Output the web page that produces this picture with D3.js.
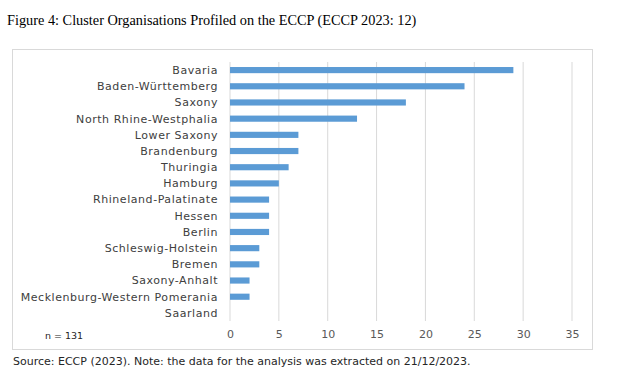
<!DOCTYPE html>
<html>
<head>
<meta charset="UTF-8">
<title></title>
<script src="https://cdn.jsdelivr.net/npm/d3@7"></script>
<style>
  body { margin: 0; background: #fff; }
</style>
</head>
<body>
<svg width="620" height="377"></svg>
<script>
// data
var states = ["Bavaria", "Baden-Württemberg", "Saxony", "North Rhine-Westphalia", "Lower Saxony",
  "Brandenburg", "Thuringia", "Hamburg", "Rhineland-Palatinate", "Hessen", "Berlin",
  "Schleswig-Holstein", "Bremen", "Saxony-Anhalt", "Mecklenburg-Western Pomerania", "Saarland"];
var counts = [29, 24, 18, 13, 7, 7, 6, 5, 4, 4, 4, 3, 3, 2, 2, 0];
var xTicks = [0, 5, 10, 15, 20, 25, 30, 35];

var svg = d3.select("svg");
var sans = "'DejaVu Sans', sans-serif";

// title above the chart frame
svg.append("text")
  .attr("x", 7).attr("y", 25)
  .style("font-family", "'Liberation Serif', 'Times New Roman', serif")
  .style("font-size", "14.3px")
  .style("fill", "#000")
  .text("Figure 4: Cluster Organisations Profiled on the ECCP (ECCP 2023: 12)");

// frame
svg.append("rect")
  .attr("x", 12.5).attr("y", 49.5)
  .attr("width", 580).attr("height", 300)
  .attr("fill", "none").attr("stroke", "#d9d9d9");

var x = d3.scaleLinear().domain([0, 35]).range([230, 572]);
var y = d3.scaleBand().domain(states).range([62, 321]).paddingInner(0.62).paddingOuter(0.31);

// grid
svg.append("g").selectAll("line")
  .data(xTicks)
  .enter().append("line")
  .attr("x1", function(d){ return x(d); })
  .attr("x2", function(d){ return x(d); })
  .attr("y1", 62).attr("y2", 321)
  .attr("stroke", "#d9d9d9").attr("stroke-width", 1);

// bars
svg.append("g").selectAll("rect")
  .data(states)
  .enter().append("rect")
  .attr("x", x(0))
  .attr("y", function(d){ return y(d); })
  .attr("width", function(d, i){ return x(counts[i]) - x(0); })
  .attr("height", y.bandwidth())
  .attr("fill", "#5b9bd5");

// category labels
svg.append("g").selectAll("text")
  .data(states)
  .enter().append("text")
  .attr("x", 218)
  .attr("y", function(d){ return y(d) + y.bandwidth() / 2; })
  .attr("dy", "0.35em")
  .attr("text-anchor", "end")
  .style("font-family", sans).style("font-size", "11px").style("letter-spacing", "0.55px")
  .style("fill", "#404040")
  .text(function(d){ return d; });

// x axis labels
var xAxis = d3.axisBottom(x).tickValues(xTicks).tickSize(0).tickPadding(0);
var gx = svg.append("g").attr("transform", "translate(0,330)").call(xAxis);
gx.select(".domain").remove();
gx.selectAll("text")
  .style("font-family", sans).style("font-size", "11px").style("fill", "#595959");

svg.append("text")
  .attr("x", 45).attr("y", 339)
  .style("font-family", sans).style("font-size", "9.5px").style("fill", "#262626")
  .text("n = 131");

svg.append("text")
  .attr("x", 13).attr("y", 365)
  .style("font-family", sans).style("font-size", "11px").style("fill", "#262626")
  .text("Source: ECCP (2023). Note: the data for the analysis was extracted on 21/12/2023.");
</script>
</body>
</html>
